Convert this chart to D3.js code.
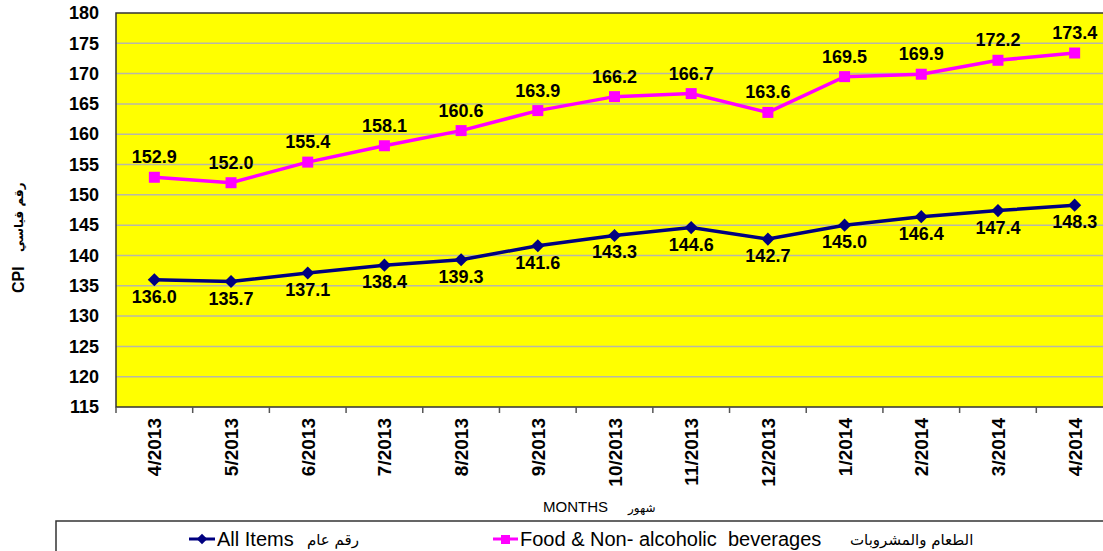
<!DOCTYPE html>
<html>
<head>
<meta charset="utf-8">
<script src="https://cdn.jsdelivr.net/npm/d3@7"></script>
<style>
  body { margin: 0; background: #fff; }
  svg { display: block; font-family: Arial, "Liberation Sans", "DejaVu Sans", sans-serif; }
</style>
</head>
<body>
<div id="chart"></div>
<script>
// chart data
var months = ["4/2013", "5/2013", "6/2013", "7/2013", "8/2013", "9/2013", "10/2013",
  "11/2013", "12/2013", "1/2014", "2/2014", "3/2014", "4/2014"];
var allItems = [136.0, 135.7, 137.1, 138.4, 139.3, 141.6, 143.3, 144.6, 142.7, 145.0, 146.4, 147.4, 148.3];
var foodBev = [152.9, 152.0, 155.4, 158.1, 160.6, 163.9, 166.2, 166.7, 163.6, 169.5, 169.9, 172.2, 173.4];
var yTicks = [115, 120, 125, 130, 135, 140, 145, 150, 155, 160, 165, 170, 175, 180];

var svgWidth = 1103;
var svgHeight = 551;

// plot area runs past the right edge, as in the original
var plot = { left: 116, top: 13, right: 1113, bottom: 407 };

var svg = d3.select("#chart")
  .append("svg")
  .attr("width", svgWidth)
  .attr("height", svgHeight);

var xScale = d3.scaleBand()
  .domain(months)
  .range([plot.left, plot.right]);

var yScale = d3.scaleLinear()
  .domain([115, 180])
  .range([plot.bottom, plot.top]);

var xc = d => xScale(d) + xScale.bandwidth() / 2;

// background
svg.append("rect")
  .attr("x", plot.left)
  .attr("y", plot.top)
  .attr("width", plot.right - plot.left)
  .attr("height", plot.bottom - plot.top)
  .attr("fill", "#ffff00");

// gridlines
svg.append("g")
  .selectAll("line")
  .data(yTicks.slice(1, -1))
  .enter()
  .append("line")
  .attr("x1", plot.left)
  .attr("x2", plot.right)
  .attr("y1", d => yScale(d))
  .attr("y2", d => yScale(d))
  .attr("stroke", "#b8b8a8")
  .attr("stroke-width", 1.5);

// plot border
svg.append("rect")
  .attr("x", plot.left)
  .attr("y", plot.top)
  .attr("width", plot.right - plot.left)
  .attr("height", plot.bottom - plot.top)
  .attr("fill", "none")
  .attr("stroke", "#333")
  .attr("stroke-width", 1.5);

// y axis labels
var leftAxis = d3.axisLeft(yScale).tickValues(yTicks).tickSize(0).tickPadding(17);
var yAxis = svg.append("g")
  .attr("transform", `translate(${plot.left}, 0)`)
  .call(leftAxis);
yAxis.select(".domain").remove();
yAxis.selectAll("text")
  .attr("font-size", "18px")
  .attr("font-weight", "bold")
  .attr("font-family", "Arial, 'Liberation Sans', sans-serif")
  .attr("fill", "#000");

// x axis: ticks at category boundaries
var bounds = months.map(m => xScale(m)).concat([plot.right]);
svg.append("g")
  .selectAll("line")
  .data(bounds)
  .enter()
  .append("line")
  .attr("x1", d => d)
  .attr("x2", d => d)
  .attr("y1", plot.bottom)
  .attr("y2", plot.bottom + 6)
  .attr("stroke", "#555")
  .attr("stroke-width", 1.5);

svg.append("g")
  .selectAll("text")
  .data(months)
  .enter()
  .append("text")
  .attr("transform", d => `translate(${xc(d) + 7}, 418) rotate(-90)`)
  .attr("text-anchor", "end")
  .attr("font-size", "19px")
  .attr("font-weight", "bold")
  .text(d => d);

// x axis title
svg.append("text")
  .attr("x", 543)
  .attr("y", 512)
  .attr("font-size", "15px")
  .text("MONTHS");
svg.append("text")
  .attr("x", 628)
  .attr("y", 512)
  .attr("font-size", "12px")
  .attr("font-family", "'DejaVu Sans', sans-serif")
  .text("شهور");

// y axis title
svg.append("text")
  .attr("transform", "translate(24, 293) rotate(-90)")
  .attr("font-size", "16px")
  .attr("font-weight", "bold")
  .text("CPI");
svg.append("text")
  .attr("transform", "translate(23, 252) rotate(-90)")
  .attr("font-size", "12px")
  .attr("font-weight", "bold")
  .attr("font-family", "'DejaVu Sans', sans-serif")
  .text("رقم قياسي");

// lines
var line = d3.line()
  .x((d, i) => xc(months[i]))
  .y(d => yScale(d));

svg.append("path")
  .datum(foodBev)
  .attr("d", line)
  .attr("fill", "none")
  .attr("stroke", "#ff00ff")
  .attr("stroke-width", 3.5);

svg.append("path")
  .datum(allItems)
  .attr("d", line)
  .attr("fill", "none")
  .attr("stroke", "#000080")
  .attr("stroke-width", 3.5);

// markers
svg.append("g")
  .selectAll("rect")
  .data(foodBev)
  .enter()
  .append("rect")
  .attr("x", (d, i) => xc(months[i]) - 5.5)
  .attr("y", d => yScale(d) - 5.5)
  .attr("width", 11)
  .attr("height", 11)
  .attr("fill", "#ff00ff");

var diamond = d3.symbol().type(d3.symbolDiamond2).size(110);
svg.append("g")
  .selectAll("path")
  .data(allItems)
  .enter()
  .append("path")
  .attr("d", diamond)
  .attr("transform", (d, i) => `translate(${xc(months[i])}, ${yScale(d)})`)
  .attr("fill", "#000080");

// data labels
svg.append("g")
  .selectAll("text")
  .data(foodBev)
  .enter()
  .append("text")
  .attr("x", (d, i) => xc(months[i]))
  .attr("y", d => yScale(d) - 14)
  .attr("text-anchor", "middle")
  .attr("font-size", "18px")
  .attr("font-weight", "bold")
  .text(d => d.toFixed(1));

svg.append("g")
  .selectAll("text")
  .data(allItems)
  .enter()
  .append("text")
  .attr("x", (d, i) => xc(months[i]))
  .attr("y", d => yScale(d) + 23)
  .attr("text-anchor", "middle")
  .attr("font-size", "18px")
  .attr("font-weight", "bold")
  .text(d => d.toFixed(1));

// legend box
svg.append("rect")
  .attr("x", 56)
  .attr("y", 521)
  .attr("width", 1100)
  .attr("height", 60)
  .attr("fill", "#fff")
  .attr("stroke", "#333")
  .attr("stroke-width", 1.5);

var legend = svg.append("g");

// All Items
legend.append("line")
  .attr("x1", 189).attr("x2", 215)
  .attr("y1", 539).attr("y2", 539)
  .attr("stroke", "#000080").attr("stroke-width", 3);
legend.append("path")
  .attr("d", d3.symbol().type(d3.symbolDiamond2).size(70))
  .attr("transform", "translate(202, 539)")
  .attr("fill", "#000080");
legend.append("text")
  .attr("x", 217).attr("y", 546)
  .attr("font-size", "20px")
  .text("All Items");
legend.append("text")
  .attr("x", 307).attr("y", 545)
  .attr("font-size", "15px")
  .attr("font-family", "'DejaVu Sans', sans-serif")
  .text("رقم عام");

// Food
legend.append("line")
  .attr("x1", 493).attr("x2", 518)
  .attr("y1", 539).attr("y2", 539)
  .attr("stroke", "#ff00ff").attr("stroke-width", 3);
legend.append("rect")
  .attr("x", 501).attr("y", 535)
  .attr("width", 9).attr("height", 9)
  .attr("fill", "#ff00ff");
legend.append("text")
  .attr("x", 520).attr("y", 546)
  .attr("font-size", "20px")
  .attr("xml:space", "preserve")
  .style("white-space", "pre")
  .text("Food & Non- alcoholic  beverages");
legend.append("text")
  .attr("x", 850).attr("y", 545)
  .attr("font-size", "15px")
  .attr("font-family", "'DejaVu Sans', sans-serif")
  .text("الطعام والمشروبات");
</script>
</body>
</html>
